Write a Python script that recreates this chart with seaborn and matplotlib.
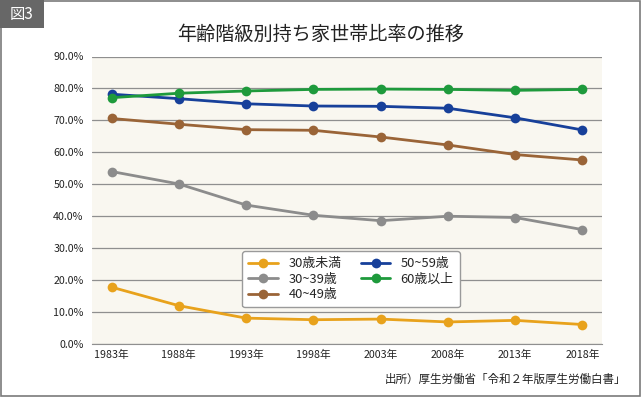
import numpy as np
import pandas as pd
import matplotlib
matplotlib.use('Agg')
import matplotlib.pyplot as plt
from matplotlib.patches import Rectangle
import seaborn as sns

years = [1983, 1988, 1993, 1998, 2003, 2008, 2013, 2018]
year_labels = [f'{y}年' for y in years]
groups = ['30歳未満', '30~39歳', '40~49歳', '50~59歳', '60歳以上']
under30 = [17.8, 12.0, 8.1, 7.6, 7.8, 6.9, 7.4, 6.1]
age30s = [54.0, 50.1, 43.5, 40.3, 38.6, 40.0, 39.6, 35.8]
age40s = [70.6, 68.8, 67.1, 66.9, 64.8, 62.3, 59.3, 57.6]
age50s = [78.2, 76.8, 75.2, 74.5, 74.4, 73.8, 70.8, 67.0]
over60 = [77.1, 78.5, 79.2, 79.7, 79.8, 79.7, 79.4, 79.7]
colors = ['#e8a21c', '#8c8c8c', '#9a6437', '#17409a', '#1e9a3c']

df = pd.DataFrame({'year': years, groups[0]: under30, groups[1]: age30s,
                   groups[2]: age40s, groups[3]: age50s, groups[4]: over60})
long = df.melt(id_vars='year', var_name='group', value_name='rate')

sns.set_style('ticks')
plt.rcParams['font.family'] = ['Noto Sans CJK JP', 'DejaVu Sans']

fig = plt.figure(figsize=(6.43, 3.97), dpi=100)
fig.patch.set_facecolor('white')

# frame and figure label
fig.add_artist(Rectangle((0.001, 0.003), 0.995, 0.995, transform=fig.transFigure,
                         fill=False, edgecolor='#7a7a7a', linewidth=1.2))
fig.add_artist(Rectangle((0, 1 - 28 / 397), 44 / 643, 28 / 397, transform=fig.transFigure,
                         facecolor='#676767', edgecolor='none'))
fig.text(22 / 643, 1 - 14 / 397, '図3', color='white', fontsize=11, ha='center', va='center')

ax = fig.add_axes([92 / 643, 1 - 344 / 397, 510 / 643, 287.5 / 397])
ax.set_facecolor('#f9f7f0')

sns.lineplot(data=long, x='year', y='rate', hue='group', palette=colors,
             marker='o', markersize=7, markeredgewidth=0, linewidth=2.0,
             ax=ax, legend=True)

ax.set_ylim(0, 90)
ax.set_xlim(1983 - 0.29 * 5, 2018 + 0.29 * 5)
ax.set_yticks(np.arange(0, 91, 10))
ax.set_yticklabels([f'{v:.1f}%' for v in np.arange(0, 91, 10)])
ax.set_xticks(years)
ax.set_xticklabels(year_labels)
ax.yaxis.grid(True, color='#8f8f8f', linewidth=0.9)
ax.set_axisbelow(True)
ax.tick_params(length=0, labelsize=7.7, colors='#222222', pad=4)
ax.tick_params(axis='y', pad=6)
ax.set_xlabel('')
ax.set_ylabel('')
for s in ['top', 'right', 'left']:
    ax.spines[s].set_visible(False)
ax.spines['bottom'].set_color('#8f8f8f')

handles, labels = ax.get_legend_handles_labels()
ax.legend(handles, labels, ncol=2, fontsize=9.3, loc='upper left',
          bbox_to_anchor=(236 / 643, 1 - 245 / 397), bbox_transform=fig.transFigure,
          frameon=True, fancybox=True, edgecolor='#9a9a9a', facecolor='white',
          framealpha=1, handlelength=2.3, columnspacing=1.5, labelspacing=0.2,
          borderpad=0.45)

fig.text(321 / 643, 1 - 34 / 397, '年齢階級別持ち家世帯比率の推移', fontsize=13.8,
         ha='center', va='center', color='#222222')
fig.text(626 / 643, 1 - 379 / 397, '出所）厚生労働省「令和２年版厚生労働白書」',
         fontsize=8.3, ha='right', va='center', color='#222222')

fig.savefig('out.png', dpi=100)
